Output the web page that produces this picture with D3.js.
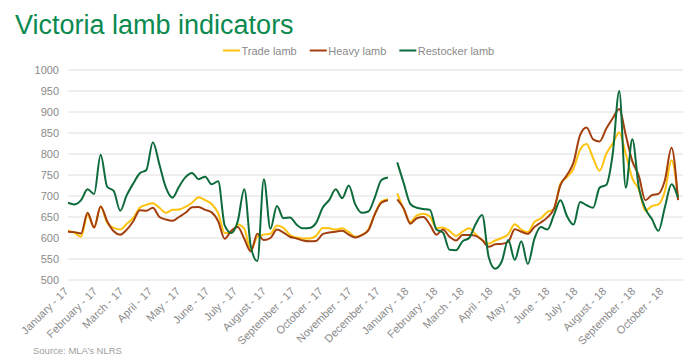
<!DOCTYPE html>
<html lang="en">
<head>
    <meta charset="UTF-8">
    <title>Victoria lamb indicators</title>
    <script src="https://cdn.jsdelivr.net/npm/d3@7"></script>
    <style>
        body { margin: 0; background: #fff; }
        text { font-family: "Liberation Sans", Arial, sans-serif; }
    </style>
</head>
<body>
    <svg width="700" height="362"></svg>

    <script>
        // weekly readings, 2017 block then 2018 block (gap over the holidays)
        var seriesNames = ["Trade lamb", "Heavy lamb", "Restocker lamb"]
        var seriesColors = ["#ffc20e", "#a33f0e", "#0d6b3b"]

        var tradeLamb17 = [618, 612, 603, 655, 625, 675, 636, 624, 620, 634, 648, 672, 679, 683, 672, 660, 667, 668, 674, 684,
            697, 690, 681, 659, 612, 612, 632, 622, 571, 603, 608, 610, 630, 624, 607, 601, 599, 599, 605, 624,
            623, 620, 623, 614, 603, 607, 620, 657, 687, 692]
        var heavyLamb17 = [615, 614, 611, 660, 625, 675, 640, 616, 608, 620, 640, 666, 665, 672, 650, 644, 641, 650, 660, 673,
            674, 667, 661, 640, 598, 617, 626, 598, 568, 610, 595, 600, 620, 613, 603, 599, 594, 592, 593, 609,
            613, 615, 617, 608, 601, 607, 618, 657, 684, 690]
        var restocker17 = [684, 680, 690, 716, 705, 798, 722, 712, 665, 702, 730, 754, 762, 828, 775, 720, 696, 722, 745, 755,
            740, 746, 728, 735, 630, 612, 640, 716, 580, 545, 740, 622, 676, 647, 649, 632, 623, 624, 636, 672,
            690, 716, 695, 725, 680, 660, 663, 697, 738, 744]

        var tradeLamb18 = [706, 668, 638, 654, 658, 651, 624, 625, 617, 605, 615, 623, 609, 595, 587, 594, 600, 609, 633, 620,
            614, 638, 647, 662, 668, 730, 745, 765, 810, 824, 790, 760, 800, 825, 852, 800, 742, 716, 665, 676,
            680, 712, 785, 698]
        var heavyLamb18 = [692, 670, 634, 647, 650, 632, 608, 620, 603, 594, 607, 607, 605, 595, 579, 585, 586, 591, 621, 615,
            610, 626, 637, 649, 670, 726, 750, 780, 845, 863, 835, 830, 860, 885, 907, 845, 783, 748, 690, 702,
            705, 738, 815, 690]
        var restocker18 = [780, 730, 681, 672, 669, 667, 620, 613, 572, 571, 592, 600, 633, 655, 555, 527, 544, 595, 548, 592,
            538, 598, 626, 620, 655, 690, 652, 632, 686, 678, 672, 720, 726, 800, 950, 720, 835, 720, 670, 645,
            617, 674, 728, 696]

        var start17 = new Date(2017, 0, 1)
        var start18 = new Date(2017, 11, 20)
        var yTicks = [500, 550, 600, 650, 700, 750, 800, 850, 900, 950, 1000]

        var svg = d3.select("svg")
        var plot = {left: 68, right: 683, top: 70, bottom: 280}

        var x = d3.scaleTime()
            .domain([new Date(2017, 0, 1), new Date(2018, 10, 1)])
            .range([68, 692])
        var y = d3.scaleLinear().domain([500, 1000]).range([plot.bottom, plot.top])

        function toPoints(values, start) {
            return values.map(function (v, i) {
                return {date: d3.timeDay.offset(start, 7 * i), value: v}
            })
        }
        var series = [
            [toPoints(tradeLamb17, start17), toPoints(tradeLamb18, start18)],
            [toPoints(heavyLamb17, start17), toPoints(heavyLamb18, start18)],
            [toPoints(restocker17, start17), toPoints(restocker18, start18)]
        ]

        // title
        svg.append("text")
            .attr("x", 15).attr("y", 34)
            .attr("font-size", 27)
            .attr("fill", "#0b8a50")
            .text("Victoria lamb indicators")

        // gridlines + y labels
        svg.append("g").selectAll("line").data(yTicks).enter().append("line")
            .attr("x1", plot.left).attr("x2", plot.right)
            .attr("y1", d => y(d)).attr("y2", d => y(d))
            .attr("stroke", "#dedede").attr("stroke-width", 1)
        svg.append("g").selectAll("text").data(yTicks).enter().append("text")
            .attr("x", 59).attr("y", d => y(d)).attr("dy", "0.35em")
            .attr("text-anchor", "end")
            .attr("font-size", 11)
            .attr("fill", "#8a8a8a")
            .text(d => d)

        // x labels
        var months = d3.timeMonth.range(new Date(2017, 0, 1), new Date(2018, 10, 1))
        var fmt = d3.timeFormat("%B - %y")
        svg.append("g").selectAll("text").data(months).enter().append("text")
            .attr("transform", d => `translate(${x(d) + 1},${plot.bottom + 12}) rotate(-45)`)
            .attr("text-anchor", "end")
            .attr("font-size", 11)
            .attr("fill", "#8a8a8a")
            .text(d => fmt(d))

        // lines
        var line = d3.line()
            .x(d => x(d.date))
            .y(d => y(d.value))
            .curve(d3.curveMonotoneX)
        series.forEach(function (parts, i) {
            parts.forEach(function (pts) {
                svg.append("path")
                    .attr("d", line(pts))
                    .attr("fill", "none")
                    .attr("stroke", seriesColors[i])
                    .attr("stroke-width", 2)
                    .attr("stroke-linejoin", "round")
            })
        })

        // legend
        var lx = 223
        var legend = svg.append("g")
        seriesNames.forEach(function (name, i) {
            legend.append("line")
                .attr("x1", lx).attr("x2", lx + 17)
                .attr("y1", 50.5).attr("y2", 50.5)
                .attr("stroke", seriesColors[i]).attr("stroke-width", 2)
            var t = legend.append("text")
                .attr("x", lx + 18.5).attr("y", 54.5)
                .attr("font-size", 11)
                .attr("fill", "#8a8a8a")
                .text(name)
            lx += 18.5 + t.node().getComputedTextLength() + 13
        })

        // source
        svg.append("text")
            .attr("x", 33).attr("y", 354)
            .attr("font-size", 9.5)
            .attr("fill", "#a0a0a0")
            .text("Source: MLA\u2019s NLRS")
    </script>
</body>
</html>
